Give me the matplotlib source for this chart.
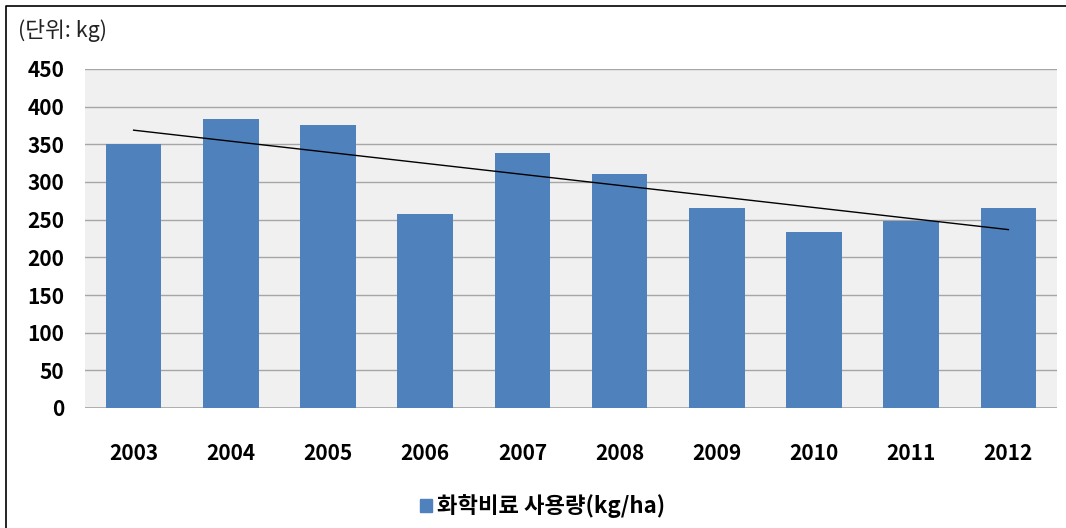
import matplotlib
matplotlib.use("Agg")
import matplotlib.pyplot as plt
import numpy as np
from matplotlib.patches import Rectangle
from matplotlib.lines import Line2D

plt.rcParams['font.family'] = ['Noto Sans CJK KR', 'DejaVu Sans']

years = ['2003', '2004', '2005', '2006', '2007', '2008', '2009', '2010', '2011', '2012']
usage = [350, 384, 375, 257, 339, 310, 266, 233, 248, 266]
y_ticks = [0, 50, 100, 150, 200, 250, 300, 350, 400, 450]
unit_label = '(단위: kg)'
series_name = '화학비료 사용량(kg/ha)'

bar_color = '#4f81bd'

fig = plt.figure(figsize=(10.66, 5.28), dpi=100)
W, H = 1066, 528
ax = fig.add_axes([85 / W, 1 - 408 / H, (1057 - 85) / W, (408 - 69) / H])
ax.set_facecolor('#f0f0f0')

x = np.arange(len(years))
ax.bar(x, usage, width=0.57, color=bar_color, zorder=3)

# linear trend over the years
k, b = np.polyfit(x, usage, 1)
ax.plot(x[[0, -1]], k * x[[0, -1]] + b, color='black', lw=1.0, zorder=4)

ax.set_xlim(-0.5, len(years) - 0.5)
ax.set_ylim(0, 450)
ax.set_yticks(y_ticks)
ax.yaxis.grid(True, color='#a6a6a6', lw=1.0, zorder=0)
ax.set_axisbelow(True)
for s in ax.spines.values():
    s.set_visible(False)
ax.axhline(0, color='#a6a6a6', lw=1.2, zorder=2)
ax.tick_params(axis='both', length=0, labelsize=15)
ax.tick_params(axis='y', pad=15)
ax.tick_params(axis='x', pad=25)
ax.set_xticks(x)
ax.set_xticklabels(years, fontweight='bold')
for t in ax.get_yticklabels():
    t.set_fontweight('bold')

fig.text(18 / W, 1 - 30 / H, unit_label, fontsize=15.5, va='center', ha='left', color='#222222')

# legend marker and label
fig.patches.append(Rectangle((420 / W, 1 - 512 / H), 12 / W, 13 / H,
                             transform=fig.transFigure, color=bar_color))
fig.text(437 / W, 1 - 506 / H, series_name, fontsize=16, fontweight='bold',
         va='center', ha='left')

# frame along the left and top edges
fig.add_artist(Line2D([6 / W, 6 / W, 1.0], [0.0, 1 - 6 / H, 1 - 6 / H],
                      transform=fig.transFigure, color='black', lw=1.2))

fig.savefig('out.png', dpi=100)
